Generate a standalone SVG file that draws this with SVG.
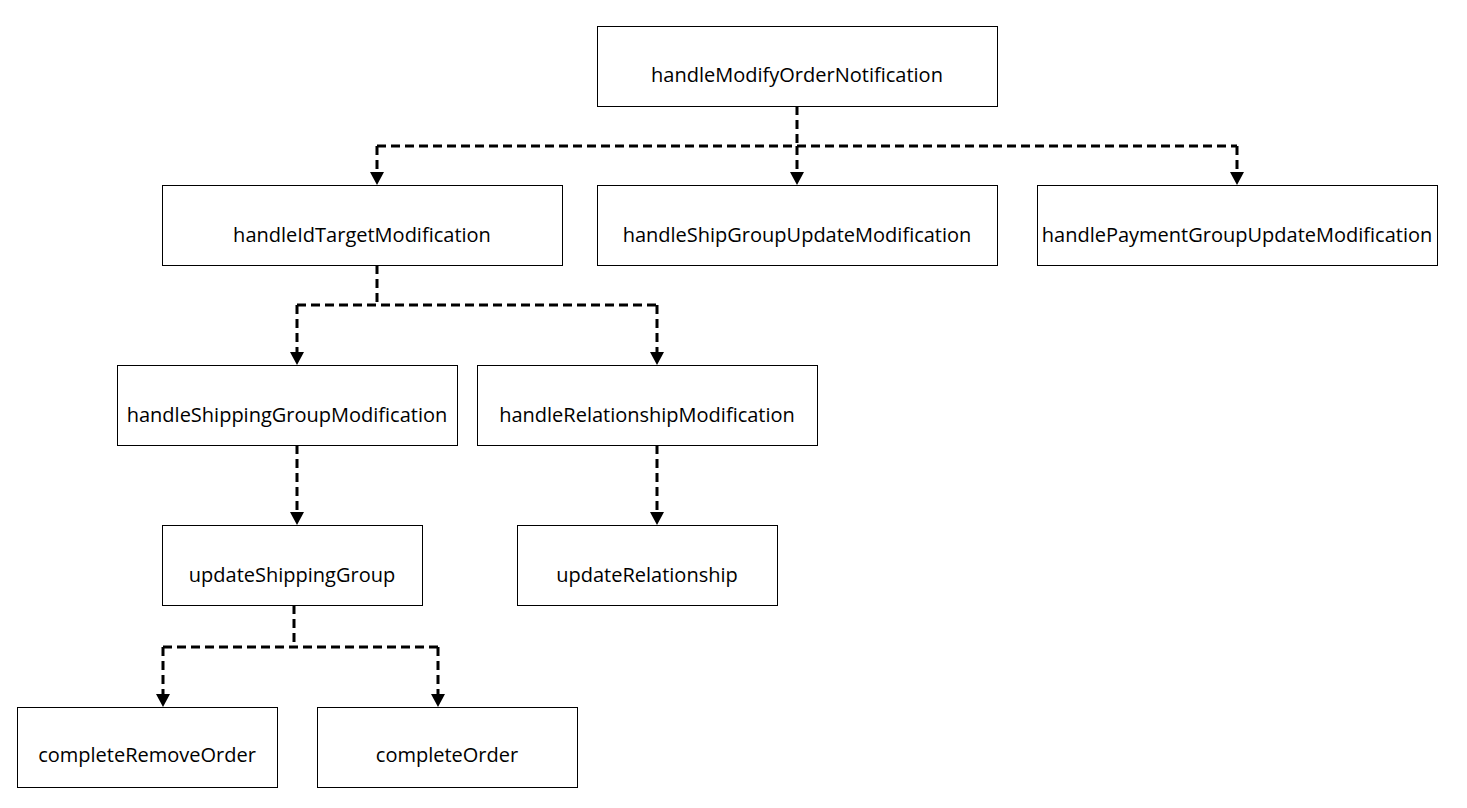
<svg xmlns="http://www.w3.org/2000/svg" width="1467" height="808" viewBox="0 0 1467 808">
<style>
.box{fill:#fff;stroke:#000;stroke-width:1}
.lbl{font-family:"Open Sans","Liberation Sans",Arial,sans-serif;font-size:20px;fill:#000;text-anchor:middle;dominant-baseline:central}
.conn{fill:none;stroke:#000;stroke-width:3;stroke-dasharray:9 5}
</style>
<rect width="1467" height="808" fill="#fff"/>
<g id="connectors">
<path class="conn" d="M797,106 V146"/>
<path class="conn" d="M377,146 H1237"/>
<path class="conn" d="M377,146 V172"/>
<path class="conn" d="M797,146 V172"/>
<path class="conn" d="M1237,146 V172"/>
<path class="conn" d="M377,265 V305"/>
<path class="conn" d="M297,305 H657"/>
<path class="conn" d="M297,305 V352"/>
<path class="conn" d="M657,305 V352"/>
<path class="conn" d="M297,445 V512"/>
<path class="conn" d="M657,445 V512"/>
<path class="conn" d="M294,605 V647"/>
<path class="conn" d="M163,647 H438"/>
<path class="conn" d="M163,647 V694"/>
<path class="conn" d="M438,647 V694"/>
<g fill="#000">
<path d="M370,172 L384,172 L377,185 Z"/>
<path d="M790,172 L804,172 L797,185 Z"/>
<path d="M1230,172 L1244,172 L1237,185 Z"/>
<path d="M290,352 L304,352 L297,365 Z"/>
<path d="M650,352 L664,352 L657,365 Z"/>
<path d="M290,512 L304,512 L297,525 Z"/>
<path d="M650,512 L664,512 L657,525 Z"/>
<path d="M156,694 L170,694 L163,707 Z"/>
<path d="M431,694 L445,694 L438,707 Z"/>
</g>
</g>
<g id="n_root"><rect class="box" x="597.5" y="26.5" width="400" height="80"/><text class="lbl" x="797" y="74">handleModifyOrderNotification</text></g>
<g id="n_idtarget"><rect class="box" x="162.5" y="185.5" width="400" height="80"/><text class="lbl" x="362" y="234">handleIdTargetModification</text></g>
<g id="n_shipgroupupdate"><rect class="box" x="597.5" y="185.5" width="400" height="80"/><text class="lbl" x="797" y="234">handleShipGroupUpdateModification</text></g>
<g id="n_paymentgroupupdate"><rect class="box" x="1037.5" y="185.5" width="400" height="80"/><text class="lbl" x="1237" y="234">handlePaymentGroupUpdateModification</text></g>
<g id="n_shippinggroupmod"><rect class="box" x="117.5" y="365.5" width="340" height="80"/><text class="lbl" x="287" y="414">handleShippingGroupModification</text></g>
<g id="n_relationshipmod"><rect class="box" x="477.5" y="365.5" width="340" height="80"/><text class="lbl" x="647" y="414">handleRelationshipModification</text></g>
<g id="n_updateshipping"><rect class="box" x="162.5" y="525.5" width="260" height="80"/><text class="lbl" x="292" y="574">updateShippingGroup</text></g>
<g id="n_updaterel"><rect class="box" x="517.5" y="525.5" width="260" height="80"/><text class="lbl" x="647" y="574">updateRelationship</text></g>
<g id="n_completeremove"><rect class="box" x="17.5" y="707.5" width="260" height="80"/><text class="lbl" x="147" y="754">completeRemoveOrder</text></g>
<g id="n_complete"><rect class="box" x="317.5" y="707.5" width="260" height="80"/><text class="lbl" x="447" y="754">completeOrder</text></g>
</svg>
